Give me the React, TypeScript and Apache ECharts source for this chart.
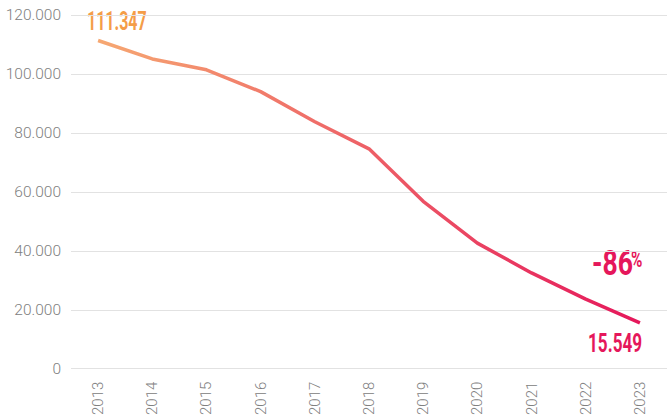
import React, { useEffect, useRef } from "react";
import * as echarts from "echarts";

const years = ["2013", "2014", "2015", "2016", "2017", "2018", "2019", "2020", "2021", "2022", "2023"];
const values = [111347, 105100, 101400, 94000, 83800, 74600, 56800, 42600, 32500, 23600, 15549];
const yTicks = { min: 0, max: 120000, interval: 20000 };
const startLabel = "111.347";
const endLabel = "15.549";
const changeLabel = "-86";

const ORANGE = "#F49D48";
const CRIMSON = "#E5175B";

function fmt(v: number): string {
  return String(v).replace(/\B(?=(\d{3})+(?!\d))/g, ".");
}

export default function App() {
  const ref = useRef<HTMLDivElement>(null);
  useEffect(() => {
    if (!ref.current) return;
    const chart = echarts.init(ref.current, undefined, { renderer: "svg" });
    const font = "Roboto, 'Noto Sans', sans-serif";
    chart.setOption({
      animation: false,
      grid: { left: 71, right: 0, top: 15, bottom: 48, containLabel: false },
      xAxis: {
        type: "category",
        data: years,
        boundaryGap: true,
        axisLine: { show: false },
        axisTick: { show: false },
        axisLabel: { rotate: 90, margin: 13, fontSize: 15, color: "#808080", fontWeight: 300, fontFamily: font },
      },
      yAxis: {
        type: "value",
        min: yTicks.min,
        max: yTicks.max,
        interval: yTicks.interval,
        axisLine: { show: false },
        axisTick: { show: false },
        splitLine: { lineStyle: { color: "#E2E2E2", width: 1 } },
        axisLabel: {
          margin: 10,
          fontSize: 15.5,
          color: "#808080",
          fontWeight: 300,
          fontFamily: font,
          formatter: (v: number) => fmt(v),
        },
      },
      series: [
        {
          type: "line",
          data: values,
          showSymbol: false,
          symbol: "none",
          lineStyle: {
            width: 3.5,
            color: new echarts.graphic.LinearGradient(0, 0, 1, 0, [
              { offset: 0, color: "#F6A872" },
              { offset: 1, color: CRIMSON },
            ]),
          },
        },
      ],
      graphic: [
        {
          type: "text",
          x: 87,
          y: 9,
          scaleX: 0.64,
          style: {
            text: startLabel,
            fill: ORANGE,
            font: "bold 25px " + font,
            textAlign: "left",
            textVerticalAlign: "top",
          },
        },
        {
          type: "text",
          x: 592,
          y: 246,
          scaleX: 0.76,
          style: {
            text: changeLabel,
            fill: CRIMSON,
            font: "bold 35px " + font,
            textAlign: "left",
            textVerticalAlign: "top",
          },
        },
        {
          type: "text",
          x: 631,
          y: 248,
          scaleX: 0.7,
          style: {
            text: "%",
            fill: CRIMSON,
            font: "bold 22px " + font,
            textAlign: "left",
            textVerticalAlign: "top",
          },
        },
        {
          type: "text",
          x: 588,
          y: 330,
          scaleX: 0.66,
          style: {
            text: endLabel,
            fill: CRIMSON,
            font: "bold 26px " + font,
            textAlign: "left",
            textVerticalAlign: "top",
          },
        },
      ],
    });
    return () => chart.dispose();
  }, []);
  return (
    <div
      ref={ref}
      style={{ position: "fixed", left: 0, top: 0, width: 667, height: 418, background: "#fff" }}
    />
  );
}
